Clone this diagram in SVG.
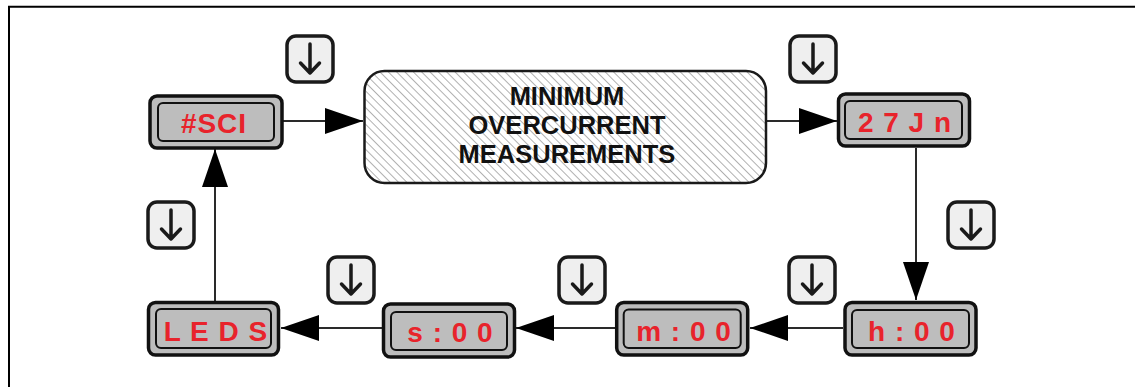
<svg xmlns="http://www.w3.org/2000/svg" xmlns:xlink="http://www.w3.org/1999/xlink" width="1135" height="387" viewBox="0 0 1135 387">
<style>
.outer{fill:#bdbdbd;stroke:#111;stroke-width:3.5}
.inner{fill:#bdbdbd;stroke:#111;stroke-width:2}
.lbl{font-family:"Liberation Sans",Arial,sans-serif;font-weight:bold;font-size:28px;fill:#e8232b;text-anchor:middle;letter-spacing:1px}
.big{font-family:"Liberation Sans",Arial,sans-serif;font-weight:bold;font-size:25.5px;fill:#111;text-anchor:middle}
.conn{stroke:#2a2a2a;stroke-width:2;fill:none}
.keybox{fill:#efefef;stroke:#1a1a1a;stroke-width:3.5}
.keyarrow{fill:none;stroke:#1a1a1a;stroke-width:3.5;stroke-linecap:round;stroke-linejoin:round}
</style>
<defs>
<marker id="ah" markerUnits="userSpaceOnUse" markerWidth="38" markerHeight="26" refX="38" refY="13" orient="auto">
<path d="M0,0 L38,13 L0,26 z" fill="#000"/>
</marker>
<pattern id="hatch" patternUnits="userSpaceOnUse" width="10" height="5.9" patternTransform="rotate(45)">
<line x1="0" y1="0.5" x2="10" y2="0.5" stroke="#a8a8a8" stroke-width="0.9"/>
</pattern>
<g id="key">
<rect class="keybox" x="-23" y="-23" width="46" height="46" rx="9"/>
<path class="keyarrow" d="M0,-15 V14 M-9.5,4 L0,14 L9.5,4"/>
</g>
</defs>
<rect width="1135" height="387" fill="#fff"/>
<path d="M9,387 V6.7 H1135" fill="none" stroke="#000" stroke-width="2"/>

<g id="connectors">
<line class="conn" x1="283" y1="121" x2="363" y2="121" marker-end="url(#ah)"/>
<line class="conn" x1="767" y1="121" x2="837" y2="121" marker-end="url(#ah)"/>
<line class="conn" x1="916" y1="148" x2="916" y2="300" marker-end="url(#ah)"/>
<line class="conn" x1="843" y1="328" x2="750" y2="328" marker-end="url(#ah)"/>
<line class="conn" x1="615" y1="328" x2="516" y2="328" marker-end="url(#ah)"/>
<line class="conn" x1="382" y1="328" x2="281" y2="328" marker-end="url(#ah)"/>
<line class="conn" x1="215" y1="301" x2="215" y2="149" marker-end="url(#ah)"/>
</g>

<g id="keys">
<use xlink:href="#key" href="#key" x="310" y="59"/>
<use xlink:href="#key" href="#key" x="813" y="59"/>
<use xlink:href="#key" href="#key" x="971" y="225"/>
<use xlink:href="#key" href="#key" x="812" y="280"/>
<use xlink:href="#key" href="#key" x="582" y="280"/>
<use xlink:href="#key" href="#key" x="351" y="280"/>
<use xlink:href="#key" href="#key" x="171" y="225"/>
</g>

<g id="node-sci">
<rect class="outer" x="150" y="96" width="132" height="52" rx="7"/>
<rect class="inner" x="158" y="103" width="116" height="38" rx="5"/>
<text class="lbl" x="214" y="133">#SCI</text>
</g>

<g id="node-measure">
<rect x="364.5" y="71" width="401.5" height="112" rx="20" fill="#fff"/>
<rect x="364.5" y="71" width="401.5" height="112" rx="20" fill="url(#hatch)" stroke="#1a1a1a" stroke-width="2.5"/>
<text class="big" x="567" y="105">MINIMUM</text>
<text class="big" x="567" y="133.5">OVERCURRENT</text>
<text class="big" x="567" y="162.5">MEASUREMENTS</text>
</g>

<g id="node-27jn">
<rect class="outer" x="838.5" y="94" width="131" height="52" rx="7"/>
<rect class="inner" x="845" y="101" width="117" height="38" rx="5"/>
<text class="lbl" x="905" y="132">2 7 J n</text>
</g>

<g id="node-h00">
<rect class="outer" x="845" y="302.5" width="131" height="52.5" rx="7"/>
<rect class="inner" x="852" y="310" width="117" height="38" rx="5"/>
<text class="lbl" x="912" y="341">h : 0 0</text>
</g>

<g id="node-m00">
<rect class="outer" x="616.7" y="302.5" width="131" height="52.5" rx="7"/>
<rect class="inner" x="623.7" y="309.5" width="117" height="38.5" rx="5"/>
<text class="lbl" x="684" y="341">m : 0 0</text>
</g>

<g id="node-s00">
<rect class="outer" x="383.5" y="304" width="131" height="53" rx="7"/>
<rect class="inner" x="391" y="312" width="116" height="38" rx="5"/>
<text class="lbl" x="450.5" y="342">s : 0 0</text>
</g>

<g id="node-leds">
<rect class="outer" x="148.5" y="302.5" width="130" height="52.5" rx="7"/>
<rect class="inner" x="156" y="309" width="115" height="39" rx="5"/>
<text class="lbl" x="216" y="341">L E D S</text>
</g>
</svg>
